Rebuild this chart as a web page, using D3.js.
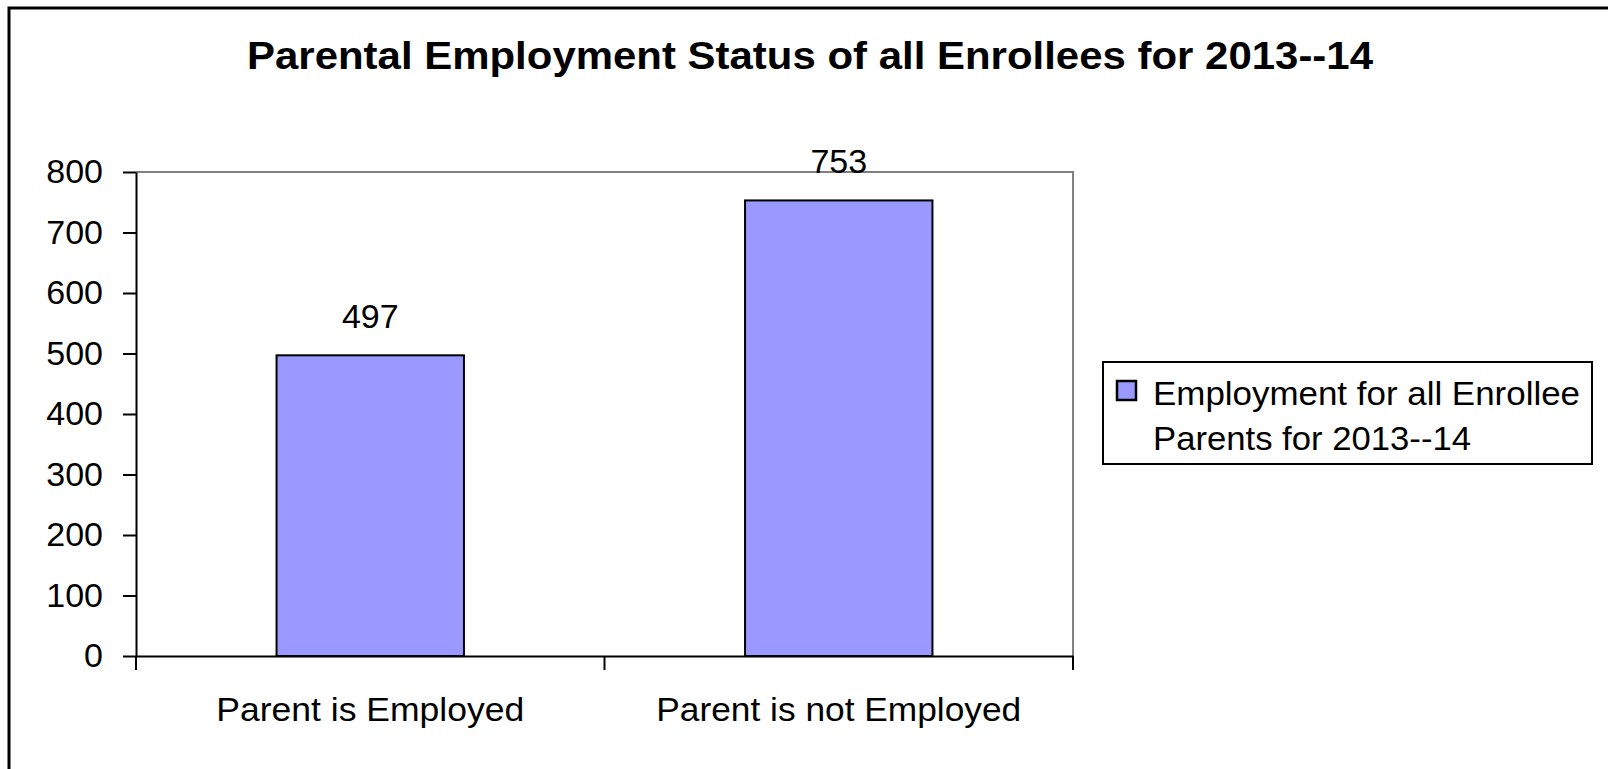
<!DOCTYPE html>
<html>
<head>
<meta charset="utf-8">
<script src="https://cdn.jsdelivr.net/npm/d3@7"></script>
<style>
  html, body { margin: 0; padding: 0; background: #fff; overflow: hidden; }
  svg { display: block; font-family: "Liberation Sans", Arial, sans-serif; }
</style>
</head>
<body>
<svg id="chart" width="1608" height="769"></svg>
<script>
const title = "Parental Employment Status of all Enrollees for 2013--14";
const categories = ["Parent is Employed", "Parent is not Employed"];
const values = [497, 753];
const seriesName = ["Employment for all Enrollee", "Parents for 2013--14"];
const yTicks = [0, 100, 200, 300, 400, 500, 600, 700, 800];

const svg = d3.select("#chart");

// outer chart border (extends past the right/bottom edges)
svg.append("rect")
  .attr("x", 9).attr("y", 8).attr("width", 1640).attr("height", 800)
  .attr("fill", "#fff").attr("stroke", "#000").attr("stroke-width", 3);

const L = 136, R = 1073, T = 172, B = 656;
const y = d3.scaleLinear().domain([0, 800]).range([B, T]);
const x = d3.scaleBand().domain(categories).range([L, R]).paddingInner(0).paddingOuter(0);
const barW = x.bandwidth() * 0.4;

// plot area gray border (top & right)
svg.append("path")
  .attr("d", `M${L},${T}H${R}V${B}`)
  .attr("fill", "none").attr("stroke", "#808080").attr("stroke-width", 2);

// bars
svg.selectAll("rect.bar").data(values).enter().append("rect")
  .attr("class", "bar")
  .attr("x", (d, i) => x(categories[i]) + x.bandwidth() / 2 - barW / 2)
  .attr("y", d => y(d))
  .attr("width", barW)
  .attr("height", d => y(0) - y(d))
  .attr("fill", "#9999FF").attr("stroke", "#000").attr("stroke-width", 2);

// data labels
svg.selectAll("text.dl").data(values).enter().append("text")
  .attr("class", "dl")
  .attr("x", (d, i) => x(categories[i]) + x.bandwidth() / 2)
  .attr("y", d => y(d) - 27)
  .attr("text-anchor", "middle")
  .attr("font-size", 34).attr("fill", "#000")
  .text(d => d);

// y axis
const yAxis = svg.append("g").attr("transform", `translate(${L},0)`)
  .call(d3.axisLeft(y).tickValues(yTicks).tickSize(13).tickSizeOuter(0).tickPadding(20));
yAxis.select(".domain").attr("stroke", "#000").attr("stroke-width", 2);
yAxis.selectAll(".tick line").attr("stroke", "#000").attr("stroke-width", 2);
yAxis.selectAll(".tick text").attr("font-size", 34).attr("fill", "#000")
  .attr("font-family", "Liberation Sans, Arial, sans-serif");

// x axis line + boundary ticks
const xAxis = svg.append("g").attr("transform", `translate(0,${B})`)
  .call(d3.axisBottom(x).tickSize(0).tickSizeOuter(0).tickPadding(0));
xAxis.select(".domain").attr("stroke", "#000").attr("stroke-width", 2);
xAxis.selectAll(".tick text")
  .attr("font-size", 34).attr("fill", "#000")
  .attr("font-family", "Liberation Sans, Arial, sans-serif")
  .attr("dy", null)
  .attr("y", 65)
  .attr("textLength", (d, i) => [308, 365][i])
  .attr("lengthAdjust", "spacingAndGlyphs");
const bounds = [L].concat(categories.map(c => x(c) + x.bandwidth()));
xAxis.selectAll("line.bt").data(bounds).enter().append("line")
  .attr("class", "bt")
  .attr("x1", d => d).attr("x2", d => d)
  .attr("y1", 0).attr("y2", 14)
  .attr("stroke", "#000").attr("stroke-width", 2);

// title
svg.append("text")
  .attr("x", 810).attr("y", 69)
  .attr("text-anchor", "middle")
  .attr("font-size", 39).attr("font-weight", "bold").attr("fill", "#000")
  .attr("textLength", 1126).attr("lengthAdjust", "spacingAndGlyphs")
  .text(title);

// legend
const lg = svg.append("g");
lg.append("rect")
  .attr("x", 1103).attr("y", 362).attr("width", 489).attr("height", 102)
  .attr("fill", "#fff").attr("stroke", "#000").attr("stroke-width", 2);
lg.append("rect")
  .attr("x", 1117).attr("y", 381).attr("width", 19).attr("height", 19)
  .attr("fill", "#9999FF").attr("stroke", "#000").attr("stroke-width", 2.5);
lg.selectAll("text").data(seriesName).enter().append("text")
  .attr("x", 1153)
  .attr("y", (d, i) => 405 + i * 45)
  .attr("font-size", 34).attr("fill", "#000")
  .attr("textLength", (d, i) => [427, 318][i])
  .attr("lengthAdjust", "spacingAndGlyphs")
  .text(d => d);
</script>
</body>
</html>
